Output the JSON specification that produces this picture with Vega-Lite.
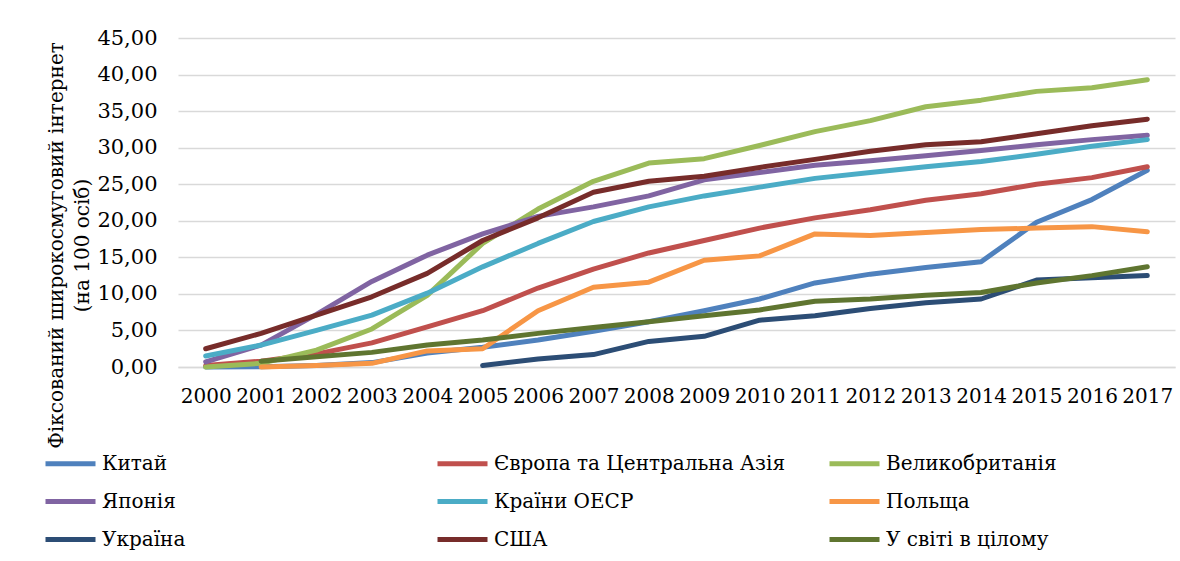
{
  "$schema": "https://vega.github.io/schema/vega-lite/v6.json",
  "autosize": "none",
  "width": 997,
  "height": 329,
  "padding": {"left": 178, "top": 38, "right": 5, "bottom": 194},
  "background": "white",
  "config": {
    "font": "DejaVu Serif",
    "view": {"stroke": null}
  },
  "data": {"values": [
    {"y":"2000","s":"Китай","v":0.0},{"y":"2001","s":"Китай","v":0.03},{"y":"2002","s":"Китай","v":0.2},{"y":"2003","s":"Китай","v":0.6},{"y":"2004","s":"Китай","v":1.9},{"y":"2005","s":"Китай","v":2.7},{"y":"2006","s":"Китай","v":3.7},{"y":"2007","s":"Китай","v":4.9},{"y":"2008","s":"Китай","v":6.2},{"y":"2009","s":"Китай","v":7.7},{"y":"2010","s":"Китай","v":9.3},{"y":"2011","s":"Китай","v":11.5},{"y":"2012","s":"Китай","v":12.7},{"y":"2013","s":"Китай","v":13.6},{"y":"2014","s":"Китай","v":14.4},{"y":"2015","s":"Китай","v":19.8},{"y":"2016","s":"Китай","v":22.9},{"y":"2017","s":"Китай","v":26.9},
    {"y":"2000","s":"Європа та Центральна Азія","v":0.2},{"y":"2001","s":"Європа та Центральна Азія","v":0.8},{"y":"2002","s":"Європа та Центральна Азія","v":1.8},{"y":"2003","s":"Європа та Центральна Азія","v":3.3},{"y":"2004","s":"Європа та Центральна Азія","v":5.5},{"y":"2005","s":"Європа та Центральна Азія","v":7.7},{"y":"2006","s":"Європа та Центральна Азія","v":10.8},{"y":"2007","s":"Європа та Центральна Азія","v":13.4},{"y":"2008","s":"Європа та Центральна Азія","v":15.6},{"y":"2009","s":"Європа та Центральна Азія","v":17.3},{"y":"2010","s":"Європа та Центральна Азія","v":19.0},{"y":"2011","s":"Європа та Центральна Азія","v":20.4},{"y":"2012","s":"Європа та Центральна Азія","v":21.5},{"y":"2013","s":"Європа та Центральна Азія","v":22.8},{"y":"2014","s":"Європа та Центральна Азія","v":23.7},{"y":"2015","s":"Європа та Центральна Азія","v":25.0},{"y":"2016","s":"Європа та Центральна Азія","v":25.9},{"y":"2017","s":"Європа та Центральна Азія","v":27.4},
    {"y":"2000","s":"Великобританія","v":0.0},{"y":"2001","s":"Великобританія","v":0.5},{"y":"2002","s":"Великобританія","v":2.3},{"y":"2003","s":"Великобританія","v":5.2},{"y":"2004","s":"Великобританія","v":9.8},{"y":"2005","s":"Великобританія","v":16.9},{"y":"2006","s":"Великобританія","v":21.6},{"y":"2007","s":"Великобританія","v":25.4},{"y":"2008","s":"Великобританія","v":27.9},{"y":"2009","s":"Великобританія","v":28.5},{"y":"2010","s":"Великобританія","v":30.3},{"y":"2011","s":"Великобританія","v":32.2},{"y":"2012","s":"Великобританія","v":33.7},{"y":"2013","s":"Великобританія","v":35.6},{"y":"2014","s":"Великобританія","v":36.5},{"y":"2015","s":"Великобританія","v":37.7},{"y":"2016","s":"Великобританія","v":38.2},{"y":"2017","s":"Великобританія","v":39.3},
    {"y":"2000","s":"Японія","v":0.7},{"y":"2001","s":"Японія","v":3.0},{"y":"2002","s":"Японія","v":7.2},{"y":"2003","s":"Японія","v":11.7},{"y":"2004","s":"Японія","v":15.3},{"y":"2005","s":"Японія","v":18.2},{"y":"2006","s":"Японія","v":20.6},{"y":"2007","s":"Японія","v":21.9},{"y":"2008","s":"Японія","v":23.4},{"y":"2009","s":"Японія","v":25.6},{"y":"2010","s":"Японія","v":26.6},{"y":"2011","s":"Японія","v":27.6},{"y":"2012","s":"Японія","v":28.2},{"y":"2013","s":"Японія","v":28.9},{"y":"2014","s":"Японія","v":29.6},{"y":"2015","s":"Японія","v":30.4},{"y":"2016","s":"Японія","v":31.1},{"y":"2017","s":"Японія","v":31.7},
    {"y":"2000","s":"Країни ОЕСР","v":1.5},{"y":"2001","s":"Країни ОЕСР","v":3.0},{"y":"2002","s":"Країни ОЕСР","v":5.0},{"y":"2003","s":"Країни ОЕСР","v":7.1},{"y":"2004","s":"Країни ОЕСР","v":10.1},{"y":"2005","s":"Країни ОЕСР","v":13.7},{"y":"2006","s":"Країни ОЕСР","v":16.9},{"y":"2007","s":"Країни ОЕСР","v":19.9},{"y":"2008","s":"Країни ОЕСР","v":21.9},{"y":"2009","s":"Країни ОЕСР","v":23.4},{"y":"2010","s":"Країни ОЕСР","v":24.6},{"y":"2011","s":"Країни ОЕСР","v":25.8},{"y":"2012","s":"Країни ОЕСР","v":26.6},{"y":"2013","s":"Країни ОЕСР","v":27.4},{"y":"2014","s":"Країни ОЕСР","v":28.1},{"y":"2015","s":"Країни ОЕСР","v":29.1},{"y":"2016","s":"Країни ОЕСР","v":30.2},{"y":"2017","s":"Країни ОЕСР","v":31.1},
    {"y":"2001","s":"Польща","v":0.0},{"y":"2002","s":"Польща","v":0.2},{"y":"2003","s":"Польща","v":0.5},{"y":"2004","s":"Польща","v":2.2},{"y":"2005","s":"Польща","v":2.5},{"y":"2006","s":"Польща","v":7.7},{"y":"2007","s":"Польща","v":10.9},{"y":"2008","s":"Польща","v":11.6},{"y":"2009","s":"Польща","v":14.6},{"y":"2010","s":"Польща","v":15.2},{"y":"2011","s":"Польща","v":18.2},{"y":"2012","s":"Польща","v":18.0},{"y":"2013","s":"Польща","v":18.4},{"y":"2014","s":"Польща","v":18.8},{"y":"2015","s":"Польща","v":19.0},{"y":"2016","s":"Польща","v":19.2},{"y":"2017","s":"Польща","v":18.5},
    {"y":"2005","s":"Україна","v":0.2},{"y":"2006","s":"Україна","v":1.1},{"y":"2007","s":"Україна","v":1.7},{"y":"2008","s":"Україна","v":3.5},{"y":"2009","s":"Україна","v":4.2},{"y":"2010","s":"Україна","v":6.4},{"y":"2011","s":"Україна","v":7.0},{"y":"2012","s":"Україна","v":8.0},{"y":"2013","s":"Україна","v":8.8},{"y":"2014","s":"Україна","v":9.3},{"y":"2015","s":"Україна","v":11.9},{"y":"2016","s":"Україна","v":12.2},{"y":"2017","s":"Україна","v":12.5},
    {"y":"2000","s":"США","v":2.5},{"y":"2001","s":"США","v":4.6},{"y":"2002","s":"США","v":7.1},{"y":"2003","s":"США","v":9.6},{"y":"2004","s":"США","v":12.8},{"y":"2005","s":"США","v":17.3},{"y":"2006","s":"США","v":20.4},{"y":"2007","s":"США","v":23.9},{"y":"2008","s":"США","v":25.4},{"y":"2009","s":"США","v":26.1},{"y":"2010","s":"США","v":27.3},{"y":"2011","s":"США","v":28.4},{"y":"2012","s":"США","v":29.5},{"y":"2013","s":"США","v":30.4},{"y":"2014","s":"США","v":30.8},{"y":"2015","s":"США","v":31.9},{"y":"2016","s":"США","v":33.0},{"y":"2017","s":"США","v":33.9},
    {"y":"2001","s":"У світі в цілому","v":0.8},{"y":"2002","s":"У світі в цілому","v":1.4},{"y":"2003","s":"У світі в цілому","v":2.0},{"y":"2004","s":"У світі в цілому","v":3.0},{"y":"2005","s":"У світі в цілому","v":3.7},{"y":"2006","s":"У світі в цілому","v":4.6},{"y":"2007","s":"У світі в цілому","v":5.4},{"y":"2008","s":"У світі в цілому","v":6.2},{"y":"2009","s":"У світі в цілому","v":7.0},{"y":"2010","s":"У світі в цілому","v":7.8},{"y":"2011","s":"У світі в цілому","v":9.0},{"y":"2012","s":"У світі в цілому","v":9.3},{"y":"2013","s":"У світі в цілому","v":9.8},{"y":"2014","s":"У світі в цілому","v":10.2},{"y":"2015","s":"У світі в цілому","v":11.5},{"y":"2016","s":"У світі в цілому","v":12.5},{"y":"2017","s":"У світі в цілому","v":13.7}
  ]},
  "mark": {"type": "line", "strokeWidth": 5, "strokeCap": "round", "strokeJoin": "round"},
  "encoding": {
    "x": {
      "field": "y", "type": "ordinal",
      "scale": {"padding": 0.5},
      "axis": {
        "title": null, "labelAngle": 0, "labelFontSize": 20, "labelColor": "#000000",
        "labelPadding": 19, "ticks": false, "domain": true, "domainColor": "#D9D9D9", "domainWidth": 1.5, "grid": false
      }
    },
    "y": {
      "field": "v", "type": "quantitative",
      "scale": {"domain": [0, 45], "nice": false},
      "axis": {
        "values": [0, 5, 10, 15, 20, 25, 30, 35, 40, 45],
        "labelExpr": "replace(format(datum.value, '.2f'), '.', ',')",
        "labelFontSize": 21, "labelColor": "#000000", "labelPadding": 21,
        "ticks": false, "domain": false,
        "grid": true, "gridColor": "#D9D9D9", "gridWidth": 1.5,
        "title": ["Фіксований широкосмуговий інтернет", "(на 100 осіб)"],
        "titleFontSize": 20, "titleFontWeight": "normal", "titleColor": "#000000",
        "titleLineHeight": 26, "titleBaseline": "middle", "titleAngle": 270,
        "titleX": -122, "titleY": 207
      }
    },
    "color": {
      "field": "s", "type": "nominal",
      "scale": {
        "domain": ["Китай", "Японія", "Україна", "Європа та Центральна Азія", "Країни ОЕСР", "США", "Великобританія", "Польща", "У світі в цілому"],
        "range": ["#4F81BD", "#8064A2", "#2C4D75", "#C0504D", "#4BACC6", "#772C2A", "#9BBB59", "#F79646", "#5F7530"]
      },
      "legend": {
        "title": null, "orient": "none", "legendX": -135, "legendY": 398,
        "columns": 3, "gridAlign": "all", "columnPadding": 33, "rowPadding": -6,
        "symbolType": "stroke", "symbolSize": 2500, "symbolStrokeWidth": 5,
        "labelFontSize": 20, "labelColor": "#000000", "labelLimit": 400, "labelOffset": 4
      }
    }
  }
}
